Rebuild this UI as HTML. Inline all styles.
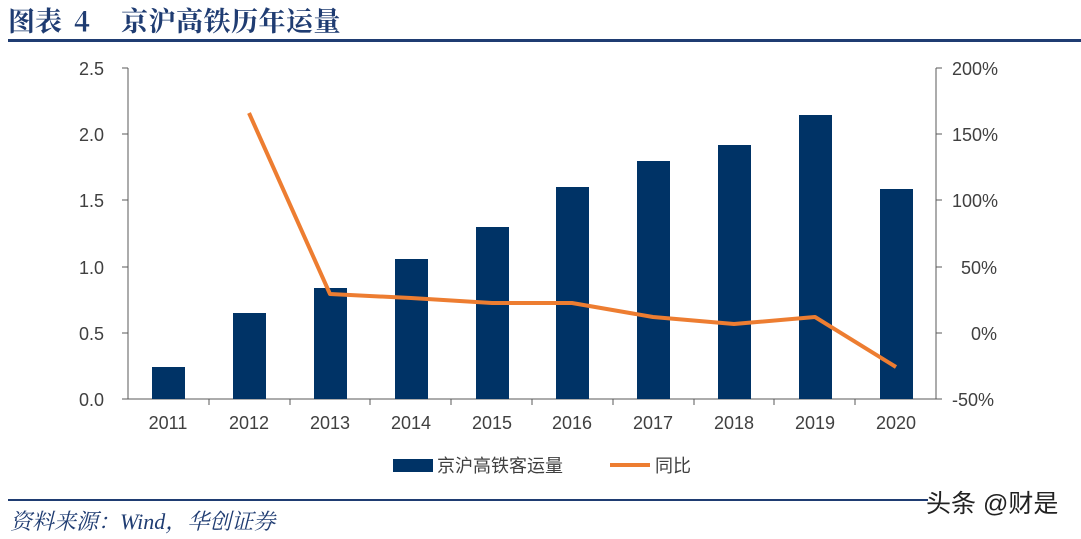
<!DOCTYPE html>
<html><head><meta charset="utf-8"><style>
body{margin:0;background:#fff;}
svg{display:block;font-family:"Liberation Sans","Noto Sans CJK SC",sans-serif;}
</style></head><body>
<svg width="1081" height="539" viewBox="0 0 1081 539">
<g font-family="'Noto Serif CJK SC',serif" font-weight="bold" font-size="27" fill="#1f3c72">
<text x="8" y="31">图表</text>
<text x="74" y="31">4</text>
<text x="121" y="31" letter-spacing="0.5">京沪高铁历年运量</text>
</g>
<rect x="8" y="39" width="1073" height="3" fill="#1f3c72"/>
<g stroke="#595959" stroke-width="1" fill="none">
<line x1="128" y1="68" x2="128" y2="399"/>
<line x1="128" y1="399" x2="936" y2="399"/>
<line x1="936" y1="68" x2="936" y2="399"/>
<line x1="122" y1="68" x2="128" y2="68"/><line x1="122" y1="134" x2="128" y2="134"/><line x1="122" y1="200" x2="128" y2="200"/><line x1="122" y1="267" x2="128" y2="267"/><line x1="122" y1="333" x2="128" y2="333"/><line x1="122" y1="399" x2="128" y2="399"/>
<line x1="936" y1="68" x2="942" y2="68"/><line x1="936" y1="134" x2="942" y2="134"/><line x1="936" y1="200" x2="942" y2="200"/><line x1="936" y1="267" x2="942" y2="267"/><line x1="936" y1="333" x2="942" y2="333"/><line x1="936" y1="399" x2="942" y2="399"/>
<line x1="209" y1="399" x2="209" y2="405"/><line x1="290" y1="399" x2="290" y2="405"/><line x1="370" y1="399" x2="370" y2="405"/><line x1="451" y1="399" x2="451" y2="405"/><line x1="532" y1="399" x2="532" y2="405"/><line x1="613" y1="399" x2="613" y2="405"/><line x1="694" y1="399" x2="694" y2="405"/><line x1="774" y1="399" x2="774" y2="405"/><line x1="855" y1="399" x2="855" y2="405"/>
</g>
<g font-size="18" fill="#404040" text-anchor="end">
<text x="104" y="75">2.5</text><text x="104" y="141">2.0</text><text x="104" y="207">1.5</text><text x="104" y="274">1.0</text><text x="104" y="340">0.5</text><text x="104" y="406">0.0</text>
</g>
<g font-size="18" fill="#404040" text-anchor="start">
<text x="952" y="75">200%</text><text x="952" y="141">150%</text><text x="952" y="207">100%</text><text x="961" y="274">50%</text><text x="971" y="340">0%</text><text x="952" y="406">-50%</text>
</g>
<g font-size="18" fill="#404040" text-anchor="middle">
<text x="168" y="429">2011</text><text x="249" y="429">2012</text><text x="330" y="429">2013</text><text x="411" y="429">2014</text><text x="492" y="429">2015</text><text x="572" y="429">2016</text><text x="653" y="429">2017</text><text x="734" y="429">2018</text><text x="815" y="429">2019</text><text x="896" y="429">2020</text>
</g>
<g fill="#003366">
<rect x="152" y="367" width="33" height="32"/>
<rect x="233" y="313" width="33" height="86"/>
<rect x="314" y="288" width="33" height="111"/>
<rect x="395" y="259" width="33" height="140"/>
<rect x="476" y="227" width="33" height="172"/>
<rect x="556" y="187" width="33" height="212"/>
<rect x="637" y="161" width="33" height="238"/>
<rect x="718" y="145" width="33" height="254"/>
<rect x="799" y="115" width="33" height="284"/>
<rect x="880" y="189" width="33" height="210"/>
</g>
<polyline fill="none" stroke="#ed7d31" stroke-width="4" stroke-linejoin="round" points="249,113 330,294 411,298 492,303 572,303 653,317 734,324 815,317 896,367"/>
<rect x="393" y="459" width="40" height="13" fill="#003366"/>
<text x="437" y="472" font-size="18" fill="#404040">京沪高铁客运量</text>
<line x1="610" y1="465" x2="650" y2="465" stroke="#ed7d31" stroke-width="4"/>
<text x="655" y="472" font-size="18" fill="#404040">同比</text>
<rect x="8" y="499" width="920" height="2" fill="#1f3c72"/>
<text x="10" y="529" font-family="'Liberation Serif','Noto Serif CJK SC',serif" font-style="italic" font-size="22" fill="#1f3c72">资料来源：Wind，华创证券</text>
<text x="926" y="512" font-size="25" fill="#222">头条 @财是</text>
</svg>
</body></html>
